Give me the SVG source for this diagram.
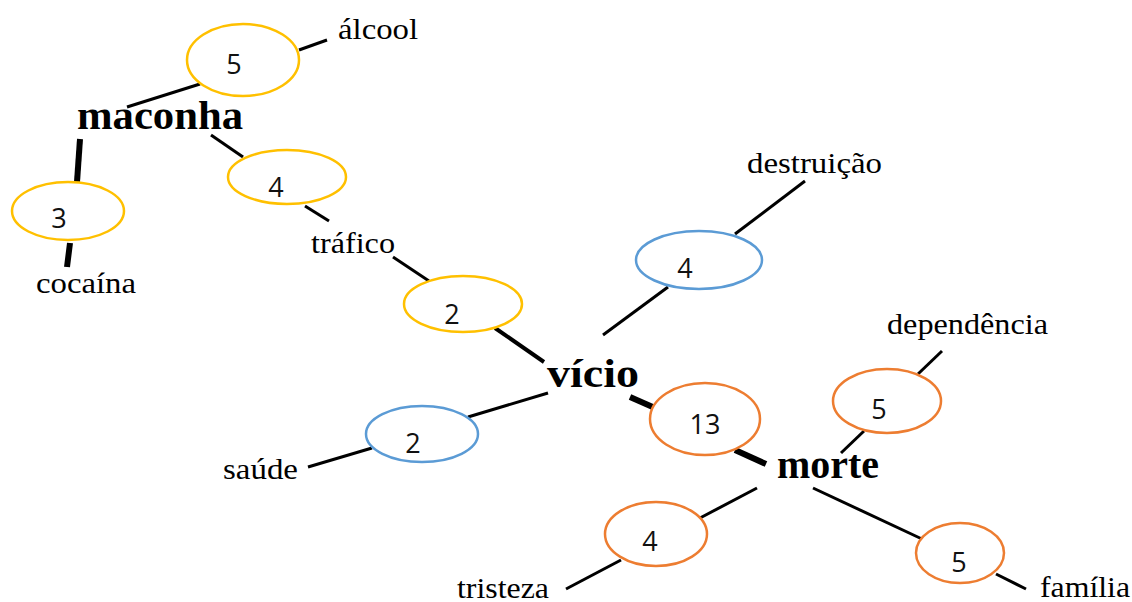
<svg xmlns="http://www.w3.org/2000/svg" width="1132" height="602" viewBox="0 0 1132 602">
  <style>
    .bg { fill: #ffffff; }
    .ring { fill: #ffffff; stroke-width: 2.5; }
    .y { stroke: #FFC000; }
    .b { stroke: #5B9BD5; }
    .o { stroke: #ED7D31; }
    .num { font-family: "Open Sans", "Liberation Sans", sans-serif; font-size: 27px; fill: #111111; text-anchor: middle; }
    .word { font-family: "Liberation Serif", "Times New Roman", serif; font-size: 30px; fill: #000000; }
    .hub { font-family: "Liberation Serif", "Times New Roman", serif; font-size: 40px; font-weight: bold; fill: #000000; }
    .ln { stroke: #000000; stroke-width: 3; stroke-linecap: butt; fill: none; }
    .thick { stroke-width: 6; }
  </style>
  <rect class="bg" x="0" y="0" width="1132" height="602"/>

  <!-- connectors between words and weight rings -->
  <g id="connectors">
    <line class="ln" x1="127" y1="107" x2="200" y2="84"/>
    <line class="ln" x1="299" y1="50" x2="327" y2="40"/>
    <line class="ln" x1="211" y1="135" x2="243" y2="157"/>
    <line class="ln" x1="305" y1="206" x2="329" y2="221"/>
    <line class="ln thick" x1="80" y1="139" x2="77" y2="182"/>
    <line class="ln thick" x1="70" y1="243" x2="67" y2="267"/>
    <line class="ln" x1="393" y1="257" x2="429" y2="281"/>
    <line class="ln" x1="495" y1="328" x2="544" y2="362" style="stroke-width:4"/>
    <line class="ln" x1="603" y1="335" x2="668" y2="287"/>
    <line class="ln" x1="735" y1="234" x2="805" y2="181"/>
    <line class="ln" x1="548" y1="393" x2="468" y2="417"/>
    <line class="ln" x1="372" y1="448" x2="308" y2="467"/>
    <line class="ln thick" x1="630" y1="397" x2="655" y2="408"/>
    <line class="ln thick" x1="735" y1="450" x2="766" y2="464"/>
    <line class="ln" x1="841" y1="453" x2="864" y2="431"/>
    <line class="ln" x1="918" y1="374" x2="942" y2="351"/>
    <line class="ln" x1="757" y1="488" x2="700" y2="518"/>
    <line class="ln" x1="621" y1="560" x2="566" y2="589"/>
    <line class="ln" x1="813" y1="488" x2="922" y2="539"/>
    <line class="ln" x1="996" y1="574" x2="1026" y2="589"/>
  </g>

  <!-- weight rings -->
  <g id="n-alcool-5"><ellipse class="ring y" cx="243" cy="60" rx="56" ry="36"/><text class="num" x="234" y="74">5</text></g>
  <g id="n-trafico-4"><ellipse class="ring y" cx="287" cy="177" rx="59" ry="27"/><text class="num" x="276" y="197">4</text></g>
  <g id="n-cocaina-3"><ellipse class="ring y" cx="68" cy="211" rx="56" ry="29"/><text class="num" x="59" y="228">3</text></g>
  <g id="n-vicio-trafico-2"><ellipse class="ring y" cx="463" cy="304" rx="59" ry="28"/><text class="num" x="452" y="324">2</text></g>
  <g id="n-destruicao-4"><ellipse class="ring b" cx="699" cy="260" rx="63" ry="29"/><text class="num" x="685" y="278">4</text></g>
  <g id="n-saude-2"><ellipse class="ring b" cx="422" cy="434" rx="56" ry="28"/><text class="num" x="413" y="453">2</text></g>
  <g id="n-morte-13"><ellipse class="ring o" cx="705" cy="419" rx="55" ry="36"/><text class="num" x="705" y="434">13</text></g>
  <g id="n-dependencia-5"><ellipse class="ring o" cx="887" cy="401" rx="54" ry="32"/><text class="num" x="879" y="419">5</text></g>
  <g id="n-tristeza-4"><ellipse class="ring o" cx="656" cy="534" rx="51" ry="32"/><text class="num" x="650" y="551">4</text></g>
  <g id="n-familia-5"><ellipse class="ring o" cx="960" cy="553" rx="44" ry="30"/><text class="num" x="959" y="572">5</text></g>

  <!-- words -->
  <g id="w-maconha"><text class="hub" x="77" y="129" textLength="166" lengthAdjust="spacingAndGlyphs">maconha</text></g>
  <g id="w-vicio"><text class="hub" x="547" y="387" textLength="92" lengthAdjust="spacingAndGlyphs">vício</text></g>
  <g id="w-morte"><text class="hub" x="777" y="478" textLength="102" lengthAdjust="spacingAndGlyphs">morte</text></g>
  <g id="w-alcool"><text class="word" x="338" y="39" textLength="80" lengthAdjust="spacingAndGlyphs">álcool</text></g>
  <g id="w-trafico"><text class="word" x="311" y="253" textLength="84" lengthAdjust="spacingAndGlyphs">tráfico</text></g>
  <g id="w-cocaina"><text class="word" x="36" y="293" textLength="100" lengthAdjust="spacingAndGlyphs">cocaína</text></g>
  <g id="w-destruicao"><text class="word" x="747" y="173" textLength="135" lengthAdjust="spacingAndGlyphs">destruição</text></g>
  <g id="w-dependencia"><text class="word" x="887" y="334" textLength="161" lengthAdjust="spacingAndGlyphs">dependência</text></g>
  <g id="w-saude"><text class="word" x="223" y="479" textLength="75" lengthAdjust="spacingAndGlyphs">saúde</text></g>
  <g id="w-tristeza"><text class="word" x="457" y="598" textLength="92" lengthAdjust="spacingAndGlyphs">tristeza</text></g>
  <g id="w-familia"><text class="word" x="1040" y="597" textLength="90" lengthAdjust="spacingAndGlyphs">família</text></g>
</svg>
